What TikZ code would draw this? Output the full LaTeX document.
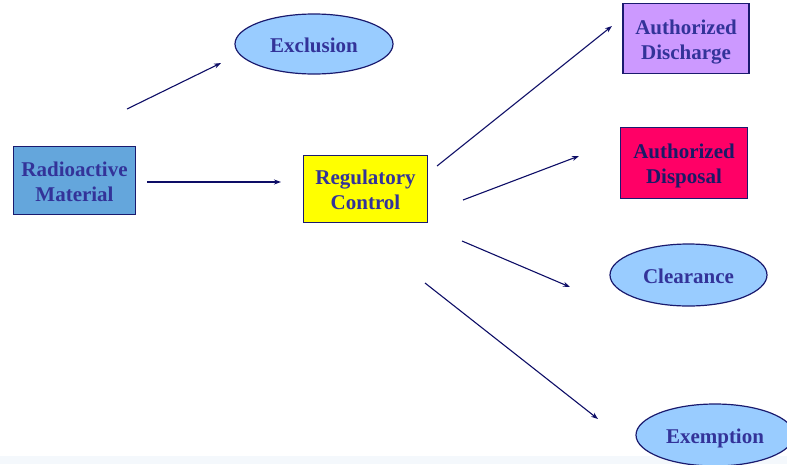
\documentclass[tikz,border=0pt]{standalone}
\usepackage{fontspec}
\setmainfont{Liberation Serif}
\usetikzlibrary{shapes.geometric,arrows.meta}
\definecolor{txt}{HTML}{333399}
\definecolor{txtdark}{HTML}{1A1A66}
\definecolor{edge}{HTML}{1A1A6E}
\definecolor{arr}{HTML}{0D0D66}
\definecolor{rmblue}{HTML}{64A6DC}
\definecolor{ellblue}{HTML}{99CCFF}
\definecolor{rcyellow}{HTML}{FFFF00}
\definecolor{lav}{HTML}{CC99FF}
\definecolor{pinkred}{HTML}{FF0066}
\definecolor{strip}{HTML}{F4F8FC}
\newcommand{\lowtext}[1]{\raisebox{-3pt}[\height][\depth]{\begin{tabular}{@{}c@{}}#1\end{tabular}}}
\tikzset{
  lbl/.style={font=\fontsize{21}{25}\selectfont\bfseries, text=txt},
  boxnode/.style={lbl, draw=edge, line width=1.2pt, rectangle, inner sep=0pt},
  ellnode/.style={lbl, draw=edge, line width=1.2pt, ellipse, inner sep=0pt},
  arrline/.style={draw=arr, line width=1.1pt, -{Stealth[length=7pt,width=5pt]}}
}
\begin{document}
\begin{tikzpicture}[x=1pt,y=-1pt]
\useasboundingbox (0,0) rectangle (787,464);
\fill[strip] (0,456) rectangle (787,464);
\node[boxnode, fill=rmblue, minimum width=122pt, minimum height=68pt] (rm) at (74.5,180.5) {\lowtext{Radioactive\\Material}};
\node[boxnode, fill=rcyellow, minimum width=124pt, minimum height=67pt] (rc) at (365.5,189) {\lowtext{Regulatory\\Control}};
\node[ellnode, fill=ellblue, minimum width=158pt, minimum height=60pt] (exc) at (314,44) {\lowtext{Exclusion}};
\node[boxnode, fill=lav, minimum width=126pt, minimum height=70pt] (ad) at (686,38.5) {\lowtext{Authorized\\Discharge}};
\node[boxnode, fill=pinkred, text=txtdark, minimum width=127pt, minimum height=71pt] (adp) at (684,163) {\lowtext{Authorized\\Disposal}};
\node[ellnode, fill=ellblue, minimum width=157pt, minimum height=62pt] (clr) at (688.5,275) {\lowtext{Clearance}};
\node[ellnode, fill=ellblue, minimum width=158pt, minimum height=62pt] (exm) at (715,435) {\lowtext{Exemption}};
\coordinate (a1s) at (127,109); \coordinate (a1e) at (221,63);
\coordinate (a2s) at (147,182); \coordinate (a2e) at (281,182);
\coordinate (a3s) at (437,166); \coordinate (a3e) at (612,26);
\coordinate (a4s) at (463,200); \coordinate (a4e) at (579,156);
\coordinate (a5s) at (462,241); \coordinate (a5e) at (570,287);
\coordinate (a6s) at (425,283); \coordinate (a6e) at (598,419);
\draw[arrline] (a1s) -- (a1e);
\draw[arrline] (a2s) -- (a2e);
\draw[arrline] (a3s) -- (a3e);
\draw[arrline] (a4s) -- (a4e);
\draw[arrline] (a5s) -- (a5e);
\draw[arrline] (a6s) -- (a6e);
\end{tikzpicture}
\end{document}
